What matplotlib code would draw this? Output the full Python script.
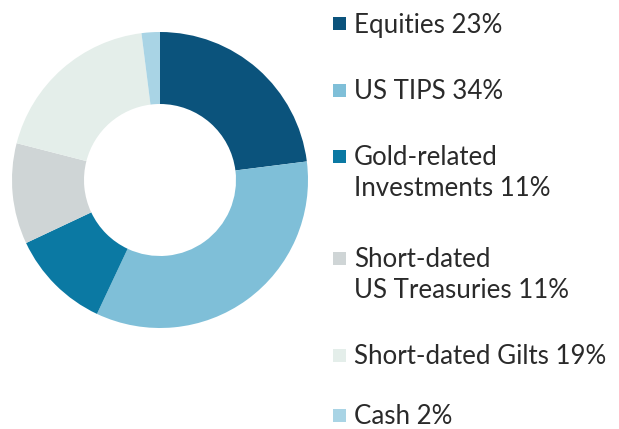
import matplotlib
matplotlib.use("Agg")
import matplotlib.pyplot as plt
from matplotlib.patches import Rectangle

labels = ["Equities 23%", "US TIPS 34%", "Gold-related\nInvestments 11%",
          "Short-dated\nUS Treasuries 11%", "Short-dated Gilts 19%", "Cash 2%"]
values = [23, 34, 11, 11, 19, 2]
colors = ["#0B537C", "#7FBFD8", "#0B79A3", "#CFD5D6", "#E4EEEA", "#A9D4E5"]

W, H = 619, 429
fig = plt.figure(figsize=(W / 100, H / 100), dpi=100)
ax = fig.add_axes([0, 0, 1, 1])

ax.pie(values, colors=colors, startangle=90, counterclock=False,
       center=(160, H - 180), radius=148,
       wedgeprops=dict(width=148 - 76, edgecolor="none", linewidth=0))
ax.set_xlim(0, W)
ax.set_ylim(0, H)
ax.set_aspect("equal")
ax.axis("off")

# legend (baseline positions in pixels from top)
baselines = [32.5, 99, 165, 267, 364, 424]
line_gap = 31.5
for lab, col, b in zip(labels, colors, baselines):
    ax.add_patch(Rectangle((333, H - b + 2.5), 13, 13, facecolor=col, edgecolor="none"))
    for i, line in enumerate(lab.split("\n")):
        ax.text(354, H - b - i * line_gap, line, fontsize=18.6, family="Lato",
                color="#2A2A2A", va="baseline", ha="left")

fig.savefig("out.png", dpi=100)
